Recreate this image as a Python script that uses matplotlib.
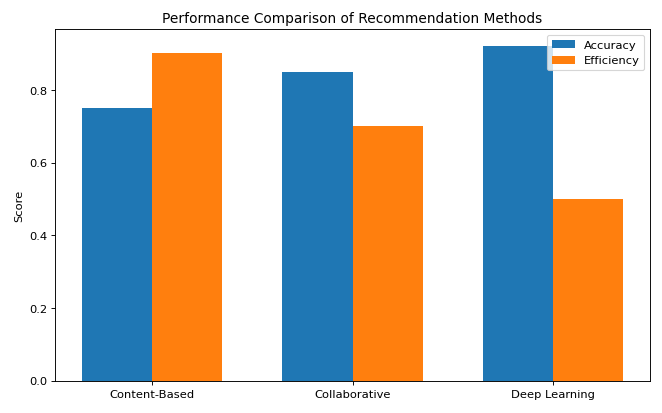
import numpy as np
import matplotlib
matplotlib.use('Agg')
import matplotlib.pyplot as plt

# data
methods = ['Content-Based', 'Collaborative', 'Deep Learning']
accuracy = [0.75, 0.85, 0.92]
efficiency = [0.90, 0.70, 0.50]

x = np.arange(len(methods))
width = 0.35

fig, ax = plt.subplots(figsize=(8, 5), dpi=82.75)
ax.bar(x - width/2, accuracy, width, label='Accuracy', color='#1f77b4')
ax.bar(x + width/2, efficiency, width, label='Efficiency', color='#ff7f0e')

ax.set_ylabel('Score')
ax.set_title('Performance Comparison of Recommendation Methods')
ax.set_xticks(x)
ax.set_xticklabels(methods)
ax.legend(loc='upper right')

plt.subplots_adjust(left=0.083, right=0.982, top=0.927, bottom=0.078)
plt.savefig('out.png')
